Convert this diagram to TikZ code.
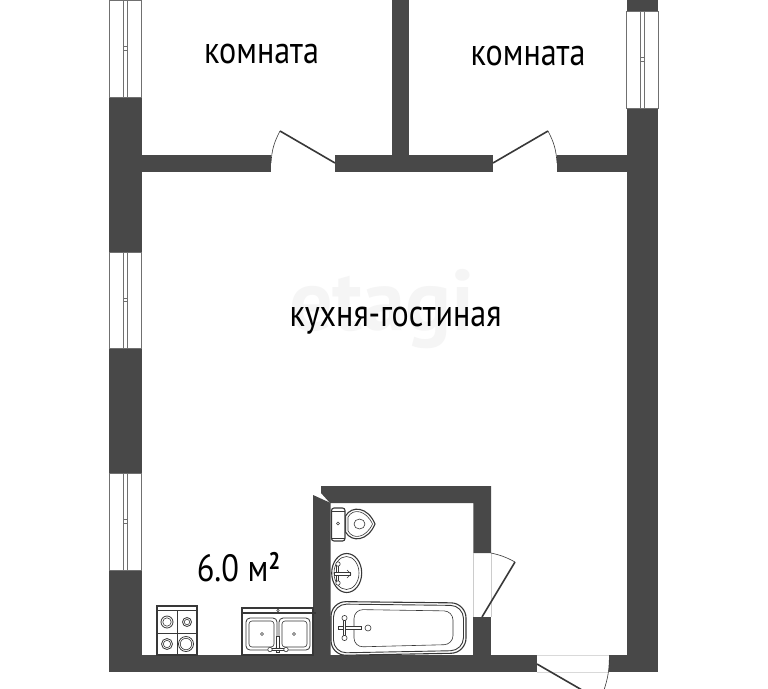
\documentclass[tikz,border=0pt]{standalone}
\usepackage{fontspec}
\setmainfont{PT Sans}
\definecolor{wallc}{HTML}{484848}
\definecolor{linec}{HTML}{383838}
\definecolor{glassc}{HTML}{707070}
\definecolor{markc}{HTML}{F5F5F5}
\tikzset{
  wall/.style={fill=wallc,draw=none},
  leaf/.style={draw=linec,line width=1.6pt},
  swing/.style={draw=linec,line width=0.6pt},
  fix/.style={draw=linec,line width=1.1pt,fill=white},
  fixthin/.style={draw=linec,line width=0.6pt},
  pipe/.style={draw=linec,line width=0.7pt,fill=white},
  roomlabel/.style={inner sep=0pt,text=black,font=\fontsize{38}{38}\selectfont}
}
\newcommand{\winV}[4]{% x1 y1 x2 y2
  \draw[glassc,line width=0.8pt,fill=white] (#1,#2) rectangle (#3,#4);
  \pgfmathsetmacro{\mx}{(#1+#3)/2}\pgfmathsetmacro{\my}{(#2+#4)/2}
  \draw[glassc,line width=0.7pt] (\mx-1.6,#2) rectangle (\mx+1.6,#4);
  \draw[glassc,line width=0.7pt,fill=white] (\mx-2,\my-1.8) rectangle (\mx+2,\my+1.8);
}
\begin{document}
\begin{tikzpicture}[x=1pt,y=-1pt]
\useasboundingbox (0,0) rectangle (768,688);
\fill[white] (0,0) rectangle (768,688);
% watermark
\node[inner sep=0pt,anchor=base,text=markc,font=\bfseries\fontsize{86}{86}\selectfont] (wm) at (382,330) {etagi};
% outer walls
\fill[wall] (109,0) rectangle (141.5,672);
\fill[wall] (626.5,0) rectangle (658,672);
\fill[wall] (109,655) rectangle (536.7,672);
\fill[wall] (609.3,655) rectangle (658,672);
% partition walls
\fill[wall] (141,155) rectangle (271,172);
\fill[wall] (335,155) rectangle (492.7,172);
\fill[wall] (557,155) rectangle (627,172);
\fill[wall] (391.7,0) rectangle (409.3,155);
% bathroom
\fill[wall] (313,495) -- (330.7,503) -- (330.7,655) -- (313,655) -- cycle;
\fill[wall] (321,486) -- (491,486) -- (491,553) -- (473.3,553) -- (473.3,503) -- (330,503) -- (321,493) -- cycle;
\fill[wall] (473.3,617) rectangle (491,655);
% windows
\winV{109}{0}{141.5}{97}
\winV{109}{252}{141.5}{348}
\winV{109}{473}{141.5}{570}
\winV{626.5}{11}{658}{108}
% door gaps
\draw[gray!40,line width=0.4pt] (473.3,553) -- (473.3,617) (491,553) -- (491,617);
\draw[gray!30,line width=0.4pt] (536.7,655) -- (609.3,655) (536.7,672) -- (609.3,672);
% doors
\coordinate (d1a) at (335,163); \coordinate (d1b) at (280,131); \coordinate (d1c) at (271,163);
\draw[leaf] (d1a) -- (d1b);
\draw[swing] (d1b) to[bend right=12] (d1c);
\coordinate (d2a) at (493,163); \coordinate (d2b) at (548,131); \coordinate (d2c) at (557,163);
\draw[leaf] (d2a) -- (d2b);
\draw[swing] (d2b) to[bend left=12] (d2c);
\coordinate (d3a) at (491,553); \coordinate (d3b) at (515,562); \coordinate (d3c) at (482,617);
\draw[swing] (d3a) to[bend left=8] (d3b);
\draw[leaf] (d3b) -- (d3c);
\coordinate (d4a) at (537,664); \coordinate (d4b) at (582,690); \coordinate (d4c) at (609.3,660); \coordinate (d4d) at (604,690);
\draw[leaf] (d4a) -- (d4b);
\draw[swing] (d4c) to[bend left=8] (d4d);
% toilet
\draw[fix] (345.5,516) .. controls (352,505) and (368,507) .. (375,524) .. controls (368,541) and (352,543) .. (345.5,532) -- cycle;
\draw[fixthin] (348,517) .. controls (353,508) and (366,510) .. (372.5,524) .. controls (366,538) and (353,540) .. (348,531) -- cycle;
\draw[fixthin] (359.5,524) ellipse (5.5 and 5);
\draw[fix,rounded corners=2.5pt] (331.5,508) rectangle (345,541);
\draw[fixthin] (331.5,511) -- (345,511) (331.5,538.5) -- (345,538.5);
\draw[fixthin] (338,523.5) circle (1.5);
% sink
\draw[fix] (346.7,573) ellipse (15 and 19.5);
\draw[fixthin] (346.5,573) ellipse (12.5 and 16.5);
\draw[pipe] (336.2,565) rectangle (338.8,583);
\draw[pipe] (334,572.8) rectangle (350,575.2);
\draw[fixthin] (347,570) -- (351,574) -- (347,578);
\draw[fixthin,fill=white] (338,564) circle (2.2) (338,583) circle (2.2);
% bath
\draw[fix,rounded corners=15pt] (331,601.5) -- (466,603) -- (466,653) -- (331,655.5) -- cycle;
\draw[fixthin,line width=0.9pt,rounded corners=13pt] (333.5,604) -- (463.5,605.5) -- (463.5,650.5) -- (333.5,653) -- cycle;
\draw[fixthin,rounded corners=9pt] (354,609.5) -- (453,611) -- (453,644.5) -- (354,647) -- cycle;
\draw[fixthin] (368,628) circle (3);
\draw[pipe] (338,626.7) rectangle (361,629.3);
\draw[pipe] (343.2,618) rectangle (345.8,638);
\draw[fixthin,fill=white] (344.5,618) circle (2.6) (344.5,638) circle (2.6);
% stove
\draw[fix] (157,606) rectangle (197,655);
\draw[fixthin,line width=1pt] (157,610.5) -- (197,610.5);
\draw[fixthin,line width=0.8pt] (177,610.5) -- (177,655) (157,633) -- (197,633);
\foreach \cx/\cy/\r in {167/622/6,187/622/4.5,167/644/5.5,186/644/7.5}{
  \draw[fixthin,line width=0.8pt] (\cx,\cy) circle (\r);
  \draw[fixthin] (\cx,\cy) circle (\r-1.8);
}
% kitchen sink
\draw[fix] (242,608) rectangle (313,655);
\draw[fixthin,line width=1.3pt] (242,613) -- (316,613);
\draw[fixthin] (278,610.5) circle (1.3);
\draw[fixthin,line width=0.8pt,rounded corners=4pt] (246,618) rectangle (277,650);
\draw[fixthin,rounded corners=3pt] (249,621) rectangle (274,647);
\draw[fixthin,line width=0.8pt,rounded corners=4pt] (279,618) rectangle (310,650);
\draw[fixthin,rounded corners=3pt] (282,621) rectangle (307,647);
\draw[fixthin] (262,634) circle (1.5) (294,634) circle (1.5);
\draw[pipe] (276.8,636) rectangle (279.2,652);
\draw[pipe] (270,648.3) rectangle (287,650.7);
\draw[fixthin,fill=white] (270,649.5) circle (2.2) (286,649.5) circle (2.2);
% labels
\node[roomlabel,anchor=base] (r1) at (261.5,63) {\scalebox{0.844}[1]{комната}};
\node[roomlabel,anchor=base] (r2) at (528,65) {\scalebox{0.844}[1]{комната}};
\node[roomlabel,anchor=base] (r3) at (395.5,326) {\scalebox{0.844}[1]{кухня-гостиная}};
\node[roomlabel,anchor=base] (r4) at (238.5,581) {\scalebox{0.853}[1]{6.0 м\raisebox{12pt}{\fontsize{24}{24}\selectfont\bfseries 2}}};
\end{tikzpicture}
\end{document}
